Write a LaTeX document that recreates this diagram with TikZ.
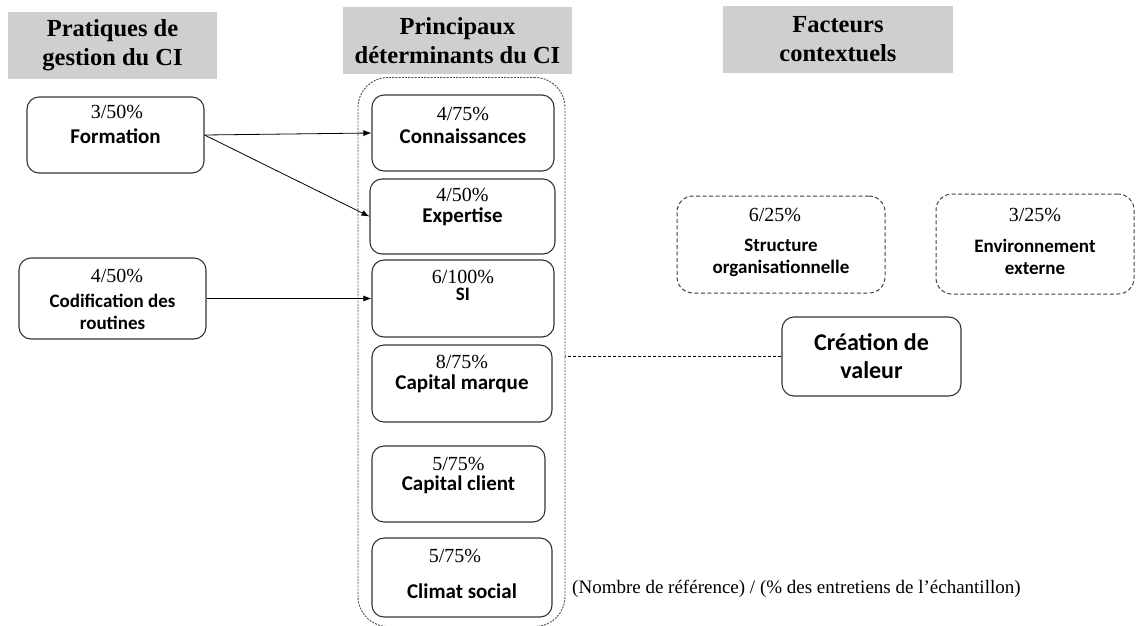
\documentclass[tikz,border=0pt]{standalone}
\usepackage{fontspec}
\usepackage{tikz}
\usetikzlibrary{arrows.meta}
\setmainfont{Liberation Serif}
\newfontfamily\carlito{Carlito}
\definecolor{hdrgray}{HTML}{D0CECE}

\begin{document}
\begin{tikzpicture}[x=1pt,y=-1pt,
	hdr/.style={fill=hdrgray,align=center,font=\fontsize{24.5}{29}\selectfont\bfseries},
	box/.style={draw=black!80,line width=1.1pt,rounded corners=12pt},
	ctxbox/.style={draw=black!75,line width=1pt,dash pattern=on 4pt off 2.5pt,rounded corners=16pt},
	grp/.style={draw=black!70,line width=0.9pt,dash pattern=on 2pt off 1.2pt,rounded corners=30pt},
	pct/.style={inner sep=0pt,font=\fontsize{20}{22}\selectfont},
	lab/.style={inner sep=0pt,font=\carlito\fontsize{21}{23}\selectfont\bfseries},
	slab/.style={inner sep=0pt,align=center,font=\carlito\fontsize{19}{22}\selectfont\bfseries},
	arr/.style={line width=0.8pt,-{Latex[length=8pt,width=6pt]}}]
	\useasboundingbox (0,0) rectangle (1136,625);
	% en-tetes
	\node[hdr,minimum width=209pt,minimum height=67pt] (h1) at (112.5,45.5) {Pratiques de\\gestion du CI};
	\node[hdr,minimum width=229pt,minimum height=67pt] (h2) at (457.5,40.5) {Principaux\\d\'eterminants du CI};
	\node[hdr,minimum width=230pt,minimum height=67pt] (h3) at (838,39.5) {Facteurs\\contextuels};
	% pratiques
	\node[box,minimum width=177pt,minimum height=76pt] (formation) at (115.5,135) {};
	\node[pct] (formation-p) at (117,112) {3/50\%};
	\node[lab] (formation-t) at (115.5,136) {Formation};
	\node[box,minimum width=187pt,minimum height=81pt] (codif) at (112.5,298.5) {};
	\node[pct] (codif-p) at (117,276) {4/50\%};
	\node[slab] (codif-t) at (112.5,311.5) {Codification des\\routines};
	% determinants
	\node[grp,minimum width=207pt,minimum height=549pt] (grp) at (461.5,352) {};
	\node[box,minimum width=182pt,minimum height=76pt] (conn) at (463,133) {};
	\node[pct] (conn-p) at (463,114) {4/75\%};
	\node[lab] (conn-t) at (463,136) {Connaissances};
	\node[box,minimum width=185pt,minimum height=75pt] (exp) at (462.5,216.5) {};
	\node[pct] (exp-p) at (462.5,195) {4/50\%};
	\node[lab] (exp-t) at (462.5,217) {Expertise};
	\node[box,minimum width=182pt,minimum height=77pt] (si) at (463,298.5) {};
	\node[pct] (si-p) at (463,277) {6/100\%};
	\node[slab] (si-t) at (463,294) {SI};
	\node[box,minimum width=180pt,minimum height=77pt] (capm) at (462,383.5) {};
	\node[pct] (capm-p) at (462,362) {8/75\%};
	\node[lab] (capm-t) at (462,384) {Capital marque};
	\node[box,minimum width=173pt,minimum height=76pt] (capc) at (458.5,484) {};
	\node[pct] (capc-p) at (458.5,464) {5/75\%};
	\node[lab] (capc-t) at (458.5,485) {Capital client};
	\node[box,minimum width=180pt,minimum height=79pt] (climat) at (462,577.5) {};
	\node[pct] (climat-p) at (455,556) {5/75\%};
	\node[lab] (climat-t) at (462,591) {Climat social};
	% facteurs contextuels
	\node[ctxbox,minimum width=208pt,minimum height=97pt] (struct) at (781,244.5) {};
	\node[pct] (struct-p) at (775,215) {6/25\%};
	\node[slab] (struct-t) at (781,258) {Structure\\organisationnelle};
	\node[ctxbox,minimum width=198pt,minimum height=100pt] (env) at (1035,244) {};
	\node[pct] (env-p) at (1035,215) {3/25\%};
	\node[slab] (env-t) at (1035,256.5) {Environnement\\externe};
	% creation de valeur
	\node[box,minimum width=179pt,minimum height=79pt,align=center,
		font=\carlito\fontsize{24}{28}\selectfont\bfseries] (creation) at (871.5,356.5) {Cr\'eation de\\valeur};
	\node[anchor=west,inner sep=0pt,font=\fontsize{19}{22}\selectfont] (legende) at (572,589)
		{(Nombre de r\'ef\'erence) / (\% des entretiens de l’\'echantillon)};
	% liens
	\draw[arr] (formation.east) -- (conn.west);
	\draw[arr] (formation.east) -- (exp.west);
	\draw[arr] (codif.east) -- (si.west);
	\draw[line width=0.8pt,dash pattern=on 3pt off 2pt] (creation.west) -- (creation.west -| grp.east);
\end{tikzpicture}
\end{document}
